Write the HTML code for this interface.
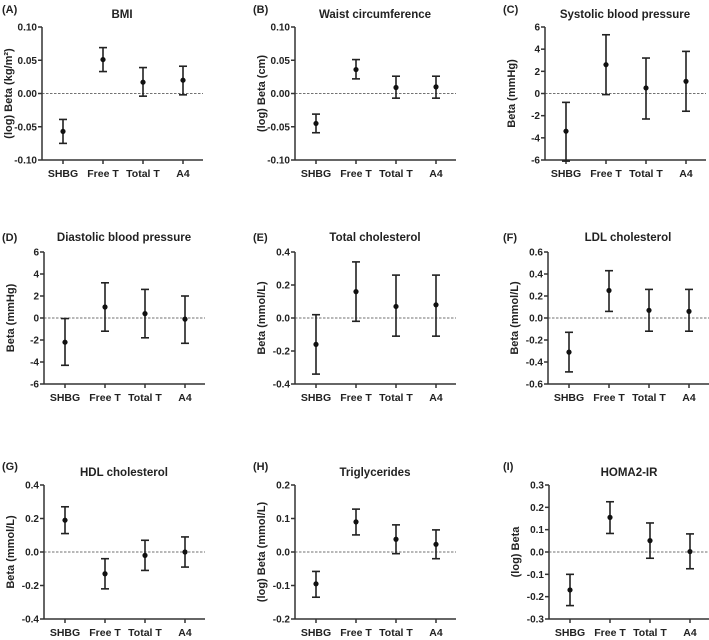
<!DOCTYPE html>
<html><head><meta charset="utf-8"><style>
html,body{margin:0;padding:0;background:#fff;}
svg{display:block;font-family:"Liberation Sans",Arial,sans-serif;font-weight:bold;}
</style></head><body>
<svg id="chart" width="709" height="640" viewBox="0 0 709 640" xmlns="http://www.w3.org/2000/svg"></svg>
<script>
const categories = ["SHBG","Free T","Total T","A4"];
const panelLabels = ["(A)","(B)","(C)","(D)","(E)","(F)","(G)","(H)","(I)"];
const panelTitles = ["BMI","Waist circumference","Systolic blood pressure","Diastolic blood pressure","Total cholesterol","LDL cholesterol","HDL cholesterol","Triglycerides","HOMA2-IR"];
const yTitles = ["(log) Beta (kg/m²)","(log) Beta (cm)","Beta (mmHg)","Beta (mmHg)","Beta (mmol/L)","Beta (mmol/L)","Beta (mmol/L)","(log) Beta (mmol/L)","(log) Beta"];
const tickLabelsA = ["0.10","0.05","0.00","-0.05","-0.10"];
const tickLabelsB = ["0.10","0.05","0.00","-0.05","-0.10"];
const tickLabelsC = ["6","4","2","0","-2","-4","-6"];
const tickLabelsD = ["6","4","2","0","-2","-4","-6"];
const tickLabelsE = ["0.4","0.2","0.0","-0.2","-0.4"];
const tickLabelsF = ["0.6","0.4","0.2","0.0","-0.2","-0.4","-0.6"];
const tickLabelsG = ["0.4","0.2","0.0","-0.2","-0.4"];
const tickLabelsH = ["0.2","0.1","0.0","-0.1","-0.2"];
const tickLabelsI = ["0.3","0.2","0.1","0.0","-0.1","-0.2","-0.3"];
const estA = [-0.057,0.051,0.017,0.020], lowA = [-0.075,0.033,-0.004,-0.002], highA = [-0.039,0.069,0.039,0.041];
const estB = [-0.045,0.036,0.009,0.010], lowB = [-0.059,0.022,-0.007,-0.007], highB = [-0.031,0.051,0.026,0.026];
const estC = [-3.4,2.6,0.5,1.1], lowC = [-6.1,-0.1,-2.3,-1.6], highC = [-0.8,5.3,3.2,3.8];
const estD = [-2.2,1.0,0.4,-0.1], lowD = [-4.3,-1.2,-1.8,-2.3], highD = [-0.05,3.2,2.6,2.0];
const estE = [-0.16,0.16,0.07,0.08], lowE = [-0.34,-0.02,-0.11,-0.11], highE = [0.02,0.34,0.26,0.26];
const estF = [-0.31,0.25,0.07,0.06], lowF = [-0.49,0.06,-0.12,-0.12], highF = [-0.13,0.43,0.26,0.26];
const estG = [0.19,-0.13,-0.02,0.00], lowG = [0.11,-0.22,-0.11,-0.09], highG = [0.27,-0.04,0.07,0.09];
const estH = [-0.095,0.09,0.038,0.023], lowH = [-0.135,0.051,-0.005,-0.02], highH = [-0.058,0.128,0.081,0.066];
const estI = [-0.17,0.155,0.051,0.002], lowI = [-0.24,0.083,-0.028,-0.075], highI = [-0.10,0.225,0.13,0.081];

const ticks = [tickLabelsA,tickLabelsB,tickLabelsC,tickLabelsD,tickLabelsE,tickLabelsF,tickLabelsG,tickLabelsH,tickLabelsI];
const ests = [estA,estB,estC,estD,estE,estF,estG,estH,estI];
const lows = [lowA,lowB,lowC,lowD,lowE,lowF,lowG,lowH,lowI];
const highs = [highA,highB,highC,highD,highE,highF,highG,highH,highI];

const colAxisX = [[42,295,545],[44,295,548],[44,295,549]];
const rowTop = [27,252,485], rowBottom = [160,384,619];
const labelX = [2,253,503], labelY = [13,241,470], titleY = [18,241,476];

const svg = document.getElementById('chart');
const NS = 'http://www.w3.org/2000/svg';
function mk(tag, attrs, parent){
  const e = document.createElementNS(NS, tag);
  for (const k in attrs) e.setAttribute(k, attrs[k]);
  (parent||svg).appendChild(e);
  return e;
}
const names = "abcdefghi";
for (let p = 0; p < 9; p++) {
  const r = Math.floor(p/3), c = p%3;
  const ax = colAxisX[r][c], top = rowTop[r], bot = rowBottom[r];
  const tl = ticks[p];
  const yMax = parseFloat(tl[0]), yMin = parseFloat(tl[tl.length-1]);
  const y = v => top + (yMax - v) / (yMax - yMin) * (bot - top);
  const x = i => ax + 21 + i * 40;
  const g = mk('g', {});
  
  

  const lab = mk('text', {x: labelX[c], y: labelY[r], 'font-size': 11, fill: '#222'}, g);
  lab.textContent = panelLabels[p];
  
  

  const tt = mk('text', {x: ax + 80, y: titleY[r], 'font-size': 11.5, 'text-anchor': 'middle', fill: '#222'}, g);
  tt.textContent = panelTitles[p];
  
  

  const yt = mk('text', {x: 0, y: 0, 'font-size': 11, 'text-anchor': 'middle', fill: '#222',
    transform: `translate(${ax-30},${(top+bot)/2}) rotate(-90)`}, g);
  yt.textContent = yTitles[p];
  
  

  const yAxis = mk('line', {x1: ax, y1: top, x2: ax, y2: bot, stroke: '#333', 'stroke-width': 1.5}, g);
  
  
  const xAxis = mk('line', {x1: ax, y1: bot, x2: ax + 161, y2: bot, stroke: '#333', 'stroke-width': 1.5}, g);
  
  

  tl.forEach(t => {
    const v = parseFloat(t), yy = y(v);
    mk('line', {x1: ax - 4, y1: yy, x2: ax, y2: yy, stroke: '#333', 'stroke-width': 1.5}, g);
    const tx = mk('text', {x: ax - 5, y: yy + 3.5, 'font-size': 10, 'text-anchor': 'end', fill: '#222'}, g);
    tx.textContent = t;
    
    
  });

  const zero = mk('line', {x1: ax, y1: y(0), x2: ax + 161, y2: y(0), stroke: '#444', 'stroke-width': 0.8, 'stroke-dasharray': '2.5,1.5'}, g);
  
  

  categories.forEach((cat, i) => {
    const xx = x(i);
    mk('line', {x1: xx, y1: bot, x2: xx, y2: bot + 4, stroke: '#333', 'stroke-width': 1.5}, g);
    const cl = mk('text', {x: xx, y: bot + 17, 'font-size': 10.5, 'text-anchor': 'middle', fill: '#222'}, g);
    cl.textContent = cat;
    
    

    const eb = mk('g', {stroke: '#222', 'stroke-width': 1.6}, g);
    
    
    const yl = y(lows[p][i]), yh = y(highs[p][i]);
    mk('line', {x1: xx, y1: yh, x2: xx, y2: yl}, eb);
    mk('line', {x1: xx - 4, y1: yh, x2: xx + 4, y2: yh}, eb);
    mk('line', {x1: xx - 4, y1: yl, x2: xx + 4, y2: yl}, eb);
    const pt = mk('circle', {cx: xx, cy: y(ests[p][i]), r: 2.6, fill: '#111'}, g);
    
    
  });
}
</script>
</body></html>
